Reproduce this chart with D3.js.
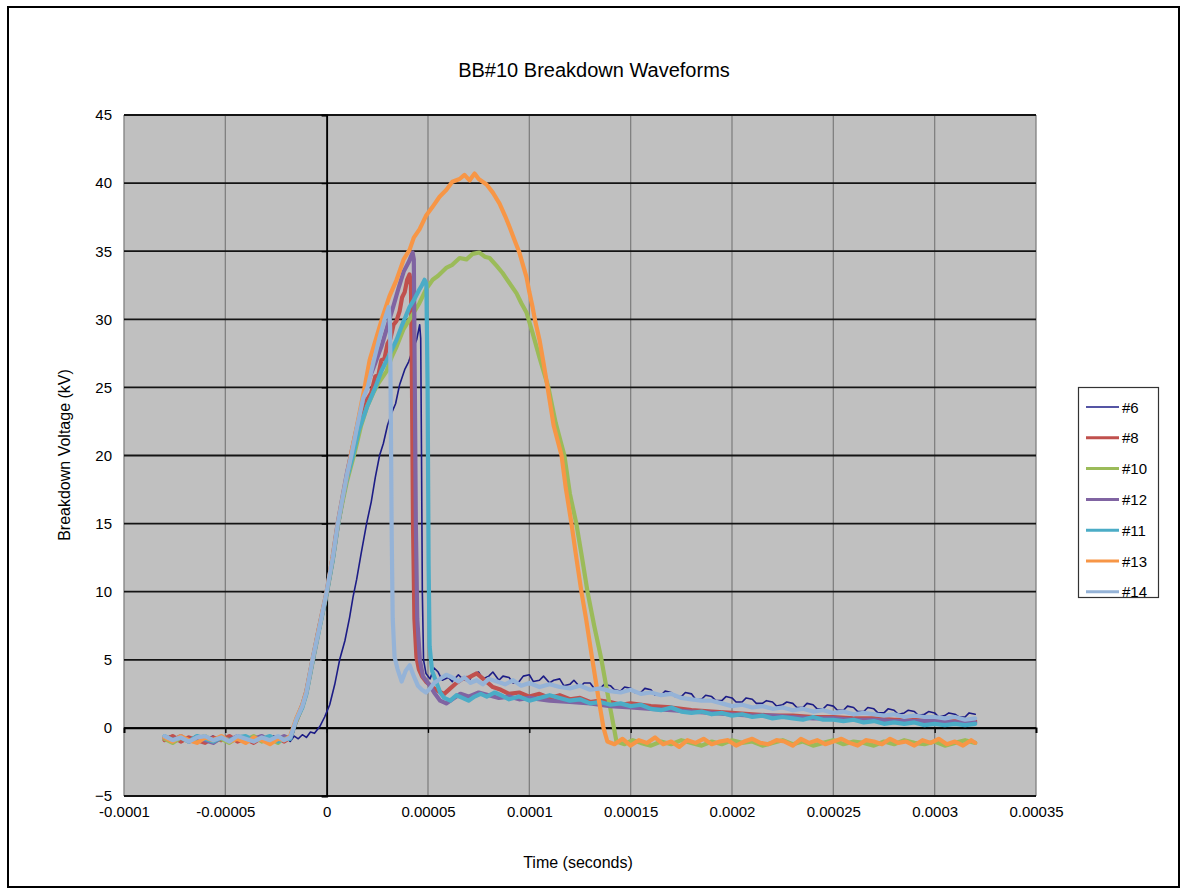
<!DOCTYPE html>
<html><head><meta charset="utf-8">
<script src="https://cdn.jsdelivr.net/npm/d3@7"></script>
<style>body{margin:0;background:#fff}svg{display:block}text{font-family:"Liberation Sans",Arial,sans-serif;fill:#000}</style>
</head><body>
<svg id="chart" width="1186" height="892"></svg>
<script>
// ---- data (time in microseconds, voltage in kV) ----
const chartTitle = "BB#10 Breakdown Waveforms";
const xTitle = "Time (seconds)";
const yTitle = "Breakdown Voltage (kV)";
const xTicks = [-0.0001,-0.00005,0,0.00005,0.0001,0.00015,0.0002,0.00025,0.0003,0.00035];
const xTickLabels = ["-0.0001","-0.00005","0","0.00005","0.0001","0.00015","0.0002","0.00025","0.0003","0.00035"];
const yTicks = [-5,0,5,10,15,20,25,30,35,40,45];
const seriesNames = ["#6","#8","#10","#12","#11","#13","#14"];
const seriesColors = ["#1c1c86","#c0504d","#9bbb59","#8064a2","#4bacc6","#f79646","#95b3d7"];

const s6 = [[-80,-0.8],[-77,-0.6],[-74,-1.0],[-71,-0.7],[-68,-0.9],[-65,-0.6],[-62,-1.0],[-59,-0.8],[-56,-0.6],[-53,-0.9],[-50,-0.7],[-47,-1.0],[-44,-0.8],[-41,-0.6],[-38,-0.9],[-35,-0.7],[-32,-1.0],[-29,-0.8],[-26,-0.6],[-23,-0.9],[-20,-0.7],[-18,-1.0],[-16,-0.6],[-14,-0.8],[-12,-0.5],[-10,-0.7],[-8,-0.3],[-6,-0.4],[-3.4,0.1],[-1,0.8],[1.5,1.7],[4,3.2],[6.4,5.0],[9,6.4],[11.3,8.1],[13,9.6],[14.8,10.9],[17,12.8],[19.7,15.0],[22,16.6],[24,18.4],[26.1,20.0],[28,20.9],[30,22.2],[32,23.1],[34,23.8],[36,25.2],[38.5,26.3],[40.5,26.9],[42.5,27.8],[44.4,28.5],[45.9,29.6],[46.4,28.6],[46.8,20],[47.2,10],[47.8,5.0],[49,4.0],[51,3.6],[53,4.4],[55,4.1],[57,3.5],[60,3.7],[62,3.4],[65,3.9],[67,3.6],[70,3.4],[72,3.9],[75,4.1],[77,3.6],[80,3.8],[82,4.1],[85,3.5],[87,3.8],[90,3.7],[92,3.3],[95,3.4],[97,3.8],[100,3.9],[102,3.4],[105,3.5],[107,3.8],[110,3.3],[112,3.5],[115,3.6],[117,3.1],[120,3.2],[122,3.5],[125,3.0],[127,3.3],[130,3.3],[132,2.9],[135,2.9],[137,3.2],[140,3.1],[142,2.8],[145,2.7],[147,3.0],[150,2.9],[152,2.6],[155,2.6],[157,2.9],[160,2.8],[162,2.4],[165,2.4],[167,2.7],[170,2.6],[172,2.3],[175,2.3],[177,2.6],[180,2.5],[182,2.1],[185,2.1],[187,2.4],[190,2.3],[192,2.0],[195,2.0],[197,2.3],[200,2.2],[202,1.9],[205,1.9],[207,2.2],[210,2.1],[212,1.8],[215,1.8],[217,2.0],[220,1.9],[222,1.6],[225,1.7],[227,1.9],[230,1.8],[232,1.5],[235,1.5],[237,1.8],[240,1.7],[242,1.4],[245,1.4],[247,1.7],[250,1.6],[252,1.3],[255,1.3],[257,1.6],[260,1.5],[262,1.2],[265,1.2],[267,1.5],[270,1.4],[272,1.1],[275,1.1],[277,1.4],[280,1.3],[282,1.0],[285,1.1],[287,1.3],[290,1.2],[292,0.9],[295,1.0],[297,1.2],[300,1.1],[302,0.8],[305,0.9],[307,1.1],[310,1.0],[312,0.8],[315,0.8],[317,1.1],[320,1.0]];

const s8 = [[-80,-0.9],[-76,-0.6],[-72,-1.0],[-68,-0.7],[-64,-0.9],[-60,-1.1],[-56,-0.7],[-52,-0.9],[-48,-0.6],[-44,-1.0],[-40,-0.8],[-36,-1.1],[-32,-0.7],[-28,-0.9],[-24,-0.7],[-21,-1.0],[-18,-0.7],[-15,0.5],[-12,1.6],[-10,2.6],[-7,4.9],[-4,7.1],[0,9.9],[3,12.4],[5.4,14.8],[8,16.9],[10,18.4],[12.3,20.0],[16,22.3],[18,23.0],[20,24.1],[22,24.6],[24,25.8],[25.5,25.9],[27,27.0],[28.5,27.1],[30,28.2],[31.5,28.6],[33,29.6],[34.5,29.9],[36,30.6],[37.2,31.6],[38.5,32.0],[39.7,32.9],[40.9,33.3],[41.6,32.5],[42.1,25],[42.6,15],[43.3,8],[44.3,5.2],[45.5,4.3],[47,3.8],[49,3.4],[52,3.0],[55,2.7],[58,2.5],[61,2.9],[64,3.3],[67,3.6],[70,3.7],[74,4.0],[78,3.5],[82,3.0],[86,2.8],[90,2.5],[95,2.6],[100,2.3],[105,2.5],[110,2.2],[115,2.4],[120,2.1],[125,2.2],[130,1.9],[135,2.0],[140,1.9],[145,1.7],[150,1.8],[160,1.6],[170,1.5],[180,1.3],[190,1.2],[200,1.1],[210,1.0],[220,0.9],[230,0.9],[240,0.8],[250,0.8],[260,0.7],[270,0.7],[280,0.6],[290,0.6],[300,0.5],[310,0.5],[320,0.5]];

const s10 = [[-80,-0.8],[-76,-1.1],[-72,-0.7],[-68,-1.0],[-64,-0.8],[-60,-0.6],[-56,-1.0],[-52,-0.8],[-48,-1.1],[-44,-0.7],[-40,-0.9],[-36,-0.6],[-32,-1.0],[-28,-0.8],[-24,-1.1],[-21,-0.7],[-18,-0.7],[-15,0.5],[-12,1.6],[-10,2.6],[-7,4.9],[-4,7.1],[0,9.9],[3,12.4],[5.4,14.8],[8,16.7],[10,18.1],[13.8,20.2],[17,22.2],[20,23.6],[23,24.6],[25.5,25.3],[29.6,26.2],[32,27.2],[34.5,28.0],[38,29.3],[40.9,30.0],[43,30.5],[45.8,31.2],[49,32.2],[52.3,32.9],[55,33.2],[59.2,33.8],[62,34.0],[65.6,34.5],[69,34.4],[72,34.8],[75.4,34.9],[78,34.6],[80.4,34.5],[84,33.9],[86.8,33.4],[90,32.7],[93.7,31.9],[96,31.2],[98.6,30.5],[101.6,29.0],[105,27.2],[109.4,25.0],[113,22.4],[117.3,20.0],[120,17.2],[123.2,15.0],[126,12.5],[128.7,10.0],[132,7.5],[135.6,5.0],[138,3.0],[141,0.6],[143,-1.0],[147,-1.2],[151,-0.9],[155,-1.1],[160,-1.3],[165,-1.0],[170,-1.2],[175,-0.9],[180,-1.1],[185,-1.3],[190,-1.0],[195,-1.2],[200,-0.9],[205,-1.1],[210,-1.0],[215,-1.3],[220,-1.1],[225,-0.9],[230,-1.2],[235,-1.0],[240,-1.3],[245,-1.1],[250,-0.9],[255,-1.2],[260,-1.0],[265,-1.1],[270,-1.3],[275,-1.0],[280,-1.2],[285,-0.9],[290,-1.1],[295,-1.2],[300,-1.0],[305,-1.3],[310,-1.1],[315,-0.9],[320,-1.1]];

const s12 = [[-80,-0.7],[-76,-0.9],[-72,-0.6],[-68,-1.0],[-64,-0.7],[-60,-0.9],[-56,-1.1],[-52,-0.7],[-48,-0.9],[-44,-0.6],[-40,-1.0],[-36,-0.8],[-32,-0.6],[-28,-1.0],[-24,-0.8],[-21,-0.6],[-18,-0.8],[-15,0.6],[-12,1.7],[-10,2.7],[-7,5.0],[-4,7.2],[0,10.0],[3,12.6],[5.4,15.0],[8,17.1],[10,18.7],[12.3,20.3],[16,22.8],[19.2,25.0],[23,26.4],[27,28.0],[30,29.5],[33,31.0],[35.5,32.3],[38,33.5],[40.5,34.2],[42.4,34.9],[43.0,34.4],[43.5,25],[44,15],[44.7,8],[46,5],[47.5,3.8],[50,3.3],[53,2.6],[56,2.0],[59,1.8],[62,2.1],[66,2.5],[70,2.3],[75,2.6],[80,2.4],[85,2.2],[90,2.3],[95,2.1],[100,2.2],[110,2.0],[120,1.9],[130,1.8],[140,1.6],[150,1.5],[160,1.4],[170,1.3],[180,1.2],[190,1.1],[200,1.0],[210,0.9],[220,0.9],[230,0.8],[240,0.7],[250,0.7],[260,0.6],[270,0.6],[280,0.5],[290,0.5],[300,0.5],[310,0.4],[320,0.4]];

const s11 = [[-80,-0.6],[-76,-0.9],[-72,-0.7],[-68,-1.0],[-64,-0.6],[-60,-0.8],[-56,-1.0],[-52,-0.7],[-48,-0.9],[-44,-0.7],[-40,-0.6],[-36,-0.9],[-32,-0.8],[-28,-0.6],[-24,-1.0],[-21,-0.8],[-18,-0.8],[-15,0.6],[-12,1.5],[-10,2.5],[-7,4.8],[-4,7.0],[0,9.8],[3,12.3],[5.4,14.7],[8,16.9],[10,18.3],[13,20.0],[16,21.9],[20,23.6],[24,25.0],[27,26.2],[30,27.1],[34.5,28.5],[37,29.5],[40.9,30.9],[43,31.4],[45.8,32.2],[47,32.5],[48.3,32.9],[49.2,32.6],[49.8,25.0],[50.3,12.0],[50.8,6.0],[52,4.2],[54,3.4],[56,2.6],[58,2.2],[61,2.0],[64,2.4],[67,2.2],[70,2.0],[73,2.3],[76,2.5],[79,2.3],[83,2.6],[86,2.4],[90,2.1],[95,2.3],[100,2.0],[105,2.2],[110,2.4],[115,2.2],[120,2.0],[125,2.1],[130,1.8],[135,1.9],[140,1.7],[145,1.8],[150,1.6],[155,1.7],[160,1.4],[165,1.3],[170,1.5],[175,1.2],[180,1.1],[185,1.2],[190,1.0],[195,1.1],[200,0.9],[205,1.0],[210,0.8],[215,0.9],[220,0.7],[225,0.8],[230,0.7],[235,0.6],[240,0.8],[245,0.6],[250,0.6],[255,0.5],[260,0.6],[265,0.4],[270,0.5],[275,0.3],[280,0.4],[285,0.3],[290,0.4],[295,0.2],[300,0.3],[305,0.2],[310,0.3],[315,0.2],[320,0.3]];

const s13 = [[-80,-0.7],[-76,-1.0],[-72,-0.6],[-68,-0.9],[-64,-1.1],[-60,-0.7],[-56,-0.9],[-52,-0.6],[-48,-1.0],[-44,-0.8],[-40,-1.1],[-36,-0.7],[-32,-0.9],[-28,-1.2],[-24,-0.8],[-21,-0.9],[-18,-0.6],[-15,0.7],[-12,1.7],[-10,2.7],[-7,5.0],[-4,7.2],[0,10.0],[3,12.6],[5.4,14.9],[8,17.0],[10,18.5],[12.3,20.3],[15,22.2],[18.7,25.0],[21.2,27.0],[24,28.4],[27.6,30.2],[31,31.7],[34.5,32.9],[38,34.4],[40.9,35.1],[43,36.0],[45.8,36.6],[49,37.6],[52,38.2],[55.7,39.0],[59,39.5],[62,40.1],[65.6,40.3],[68,40.6],[70.5,40.2],[73,40.7],[75,40.3],[78.9,39.9],[82,39.3],[85.3,38.5],[88,37.6],[90.2,36.8],[93,35.7],[95.1,34.9],[97,33.9],[98.6,33.1],[100,32.0],[101.6,30.9],[103,29.8],[105,28.5],[107,26.8],[109,25.0],[112,22.2],[115.9,20.0],[118,17.6],[120.8,15.0],[123,12.7],[125.7,10.0],[128,8.0],[131.1,5.0],[134,2.3],[136.6,0.0],[138.5,-1.0],[142,-1.2],[146,-0.8],[150,-1.3],[154,-0.9],[158,-1.1],[162,-0.7],[166,-1.2],[170,-1.0],[174,-1.4],[178,-0.9],[182,-1.1],[186,-0.8],[190,-1.2],[194,-1.0],[198,-0.9],[202,-1.3],[206,-1.0],[210,-0.8],[214,-1.1],[218,-1.2],[222,-0.9],[226,-1.0],[230,-1.3],[234,-0.8],[238,-1.1],[242,-0.9],[246,-1.2],[250,-1.0],[254,-0.8],[258,-1.1],[262,-1.3],[266,-0.9],[270,-1.0],[274,-1.2],[278,-0.8],[282,-1.1],[286,-1.0],[290,-1.3],[294,-0.9],[298,-1.1],[302,-0.8],[306,-1.2],[310,-1.0],[314,-1.3],[318,-0.9],[320,-1.1]];

const s14 = [[-80,-0.6],[-76,-0.9],[-72,-0.7],[-68,-1.0],[-64,-0.7],[-60,-0.6],[-56,-0.9],[-52,-0.7],[-48,-1.0],[-44,-0.6],[-40,-0.8],[-36,-1.0],[-32,-0.7],[-28,-0.9],[-24,-0.6],[-21,-0.9],[-18,-0.7],[-15,0.6],[-12,1.6],[-10,2.6],[-7,5.0],[-4,7.1],[0,10.0],[3,12.5],[5.4,14.9],[8,17.0],[10,18.6],[12.3,20.1],[15,22.1],[18,24.2],[20.2,25.0],[23,26.8],[26,28.6],[28.6,30.0],[30.6,30.9],[31.3,29.5],[31.7,22],[32.1,14],[32.6,8],[33.5,5.2],[35,4.3],[37,3.4],[39,4.2],[41,4.6],[43,3.8],[45,3.1],[47,2.8],[49,2.6],[51,2.9],[53,3.3],[56,3.6],[59,3.9],[62,3.7],[65,3.4],[68,3.7],[71,3.3],[74,3.5],[77,3.2],[80,3.6],[84,3.4],[88,3.2],[92,3.5],[96,3.1],[100,3.3],[105,3.0],[110,3.2],[115,3.0],[120,2.9],[125,3.1],[130,2.8],[135,2.9],[140,2.7],[145,2.6],[150,2.8],[155,2.5],[160,2.6],[165,2.4],[170,2.5],[175,2.2],[180,2.1],[185,2.0],[190,2.0],[195,1.8],[200,1.6],[205,1.7],[210,1.5],[215,1.6],[220,1.4],[225,1.5],[230,1.3],[235,1.4],[240,1.2],[245,1.3],[250,1.1],[255,1.2],[260,1.0],[265,1.1],[270,1.0],[275,0.9],[280,1.0],[285,0.8],[290,0.9],[295,0.8],[300,0.8],[305,0.7],[310,0.8],[315,0.6],[320,0.7]];

const seriesData = [s6, s8, s10, s12, s11, s13, s14];
const seriesWidths = [1.6, 4.2, 4.2, 4.2, 4.2, 4.2, 4.2];

// ---- drawing ----
const svg = d3.select("#chart");
const W = 1186, H = 892;
const plot = {left:124, right:1036, top:115, bottom:796};
const x = d3.scaleLinear().domain([-0.0001, 0.00035]).range([plot.left, plot.right]);
const y = d3.scaleLinear().domain([-5, 45]).range([plot.bottom, plot.top]);

svg.append("rect").attr("width",W).attr("height",H).attr("fill","#fff");
svg.append("rect").attr("x",8).attr("y",7).attr("width",1171).attr("height",880)
  .attr("fill","none").attr("stroke","#000").attr("stroke-width",2);

svg.append("rect").attr("x",plot.left).attr("y",plot.top)
  .attr("width",plot.right-plot.left).attr("height",plot.bottom-plot.top).attr("fill","#c0c0c0");

// vertical grid
svg.append("g").selectAll("line").data(xTicks).join("line")
  .attr("x1",d=>x(d)).attr("x2",d=>x(d)).attr("y1",plot.top).attr("y2",plot.bottom)
  .attr("stroke","#808080").attr("stroke-width",1.3);
// horizontal grid
svg.append("g").selectAll("line").data(yTicks).join("line")
  .attr("x1",plot.left).attr("x2",plot.right).attr("y1",d=>y(d)).attr("y2",d=>y(d))
  .attr("stroke","#141414").attr("stroke-width",1.8);

// axis at y=0 with tick marks
const xAxis0 = svg.append("g").attr("transform",`translate(0,${y(0)})`)
  .call(d3.axisBottom(x).tickValues(xTicks).tickSize(5).tickFormat(""));
xAxis0.select(".domain").attr("stroke","#000").attr("stroke-width",1.8);
xAxis0.selectAll(".tick line").attr("stroke","#000").attr("stroke-width",1.3);
// axis at x=0 with tick marks
const yAxis0 = svg.append("g").attr("transform",`translate(${x(0)},0)`)
  .call(d3.axisLeft(y).tickValues(yTicks).tickSize(5).tickFormat(""));
yAxis0.select(".domain").attr("stroke","#000").attr("stroke-width",1.8);
yAxis0.selectAll(".tick line").attr("stroke","#000").attr("stroke-width",1.3);

// tick labels
const xLab = svg.append("g").attr("transform",`translate(0,${plot.bottom})`)
  .call(d3.axisBottom(x).tickValues(xTicks).tickSize(0).tickPadding(10).tickFormat((d,i)=>xTickLabels[i]));
xLab.select(".domain").remove();
xLab.selectAll("text").attr("font-size",15).attr("font-family","Liberation Sans, Arial, sans-serif");
const yLab = svg.append("g").attr("transform",`translate(${plot.left},0)`)
  .call(d3.axisLeft(y).tickValues(yTicks).tickSize(0).tickPadding(12).tickFormat(d3.format("d")));
yLab.select(".domain").remove();
yLab.selectAll("text").attr("font-size",15).attr("font-family","Liberation Sans, Arial, sans-serif");

// series
const clip = svg.append("clipPath").attr("id","pc").append("rect")
  .attr("x",plot.left).attr("y",plot.top).attr("width",plot.right-plot.left).attr("height",plot.bottom-plot.top);
const line = d3.line().x(d=>x(d[0]*1e-6)).y(d=>y(d[1]));
const g = svg.append("g").attr("clip-path","url(#pc)");
seriesData.forEach((s,i)=>{
  g.append("path").datum(s).attr("d",line).attr("fill","none")
    .attr("stroke",seriesColors[i]).attr("stroke-width",seriesWidths[i])
    .attr("stroke-linejoin","round").attr("stroke-linecap","round");
});

// titles
svg.append("text").attr("x",594).attr("y",77).attr("text-anchor","middle")
  .attr("font-size",20).text(chartTitle);
svg.append("text").attr("x",578).attr("y",868).attr("text-anchor","middle")
  .attr("font-size",16).text(xTitle);
svg.append("text").attr("transform","translate(70,455) rotate(-90)").attr("text-anchor","middle")
  .attr("font-size",16).text(yTitle);

// legend
const lg = svg.append("g");
lg.append("rect").attr("x",1078.5).attr("y",387.5).attr("width",80).attr("height",210)
  .attr("fill","#fff").attr("stroke","#333").attr("stroke-width",1.2);
seriesNames.forEach((n,i)=>{
  const yy = 407 + i*30.8;
  lg.append("line").attr("x1",1086).attr("x2",1119).attr("y1",yy).attr("y2",yy)
    .attr("stroke",seriesColors[i]).attr("stroke-width",i===0?1.5:3);
  lg.append("text").attr("x",1122).attr("y",yy+5.5).attr("font-size",15).text(n);
});
</script>
</body></html>
